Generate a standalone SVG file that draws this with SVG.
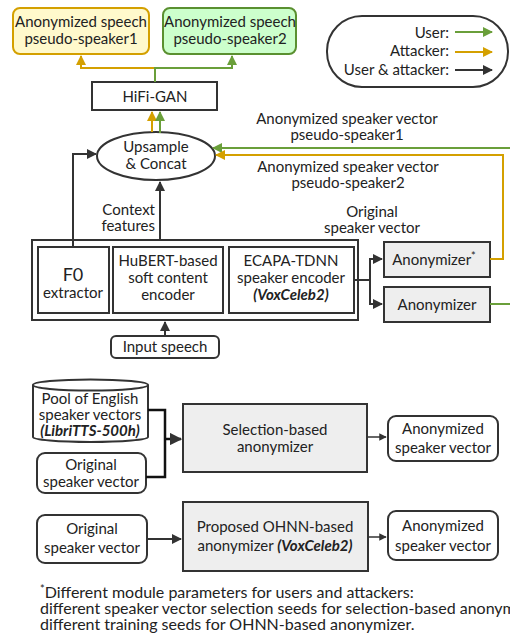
<svg xmlns="http://www.w3.org/2000/svg" width="510" height="640" viewBox="0 0 510 640">
<style>
text{font-family:Lato,"Noto Sans","Liberation Sans",sans-serif;font-size:15px;fill:#222;text-anchor:middle}
.box{fill:#fff;stroke:#333;stroke-width:2}
.gray{fill:#eeeeee;stroke:#333;stroke-width:2}
.k{fill:none;stroke:#333;stroke-width:2}
.g{fill:none;stroke:#6a9f3a;stroke-width:2}
.y{fill:none;stroke:#d4a000;stroke-width:2}
.it{font-style:italic;font-weight:bold}
.fn{font-size:16px;text-anchor:start}
</style>
<defs>
<marker id="ak" viewBox="0 0 10 10" refX="9" refY="5" markerWidth="5" markerHeight="5" orient="auto" markerUnits="strokeWidth"><path d="M0,0L10,5L0,10z" fill="#333"/></marker>
<marker id="ag" viewBox="0 0 10 10" refX="9" refY="5" markerWidth="5" markerHeight="5" orient="auto" markerUnits="strokeWidth"><path d="M0,0L10,5L0,10z" fill="#6a9f3a"/></marker>
<marker id="ay" viewBox="0 0 10 10" refX="9" refY="5" markerWidth="5" markerHeight="5" orient="auto" markerUnits="strokeWidth"><path d="M0,0L10,5L0,10z" fill="#d4a000"/></marker>
</defs>

<g id="out1"><rect x="13" y="8" width="136" height="46" rx="7" fill="#fff9cc" stroke="#d4a000" stroke-width="2"/><text x="81" y="27">Anonymized speech</text><text x="81" y="44">pseudo-speaker1</text></g>
<g id="out2"><rect x="163" y="8" width="133" height="46" rx="7" fill="#ccffcc" stroke="#5a9030" stroke-width="2"/><text x="230" y="27">Anonymized speech</text><text x="230" y="44">pseudo-speaker2</text></g>

<g id="legend"><rect x="327" y="16" width="181" height="71" rx="35" fill="#fff" stroke="#333" stroke-width="2"/>
<text x="449" y="38" style="text-anchor:end">User:</text>
<text x="449" y="56" style="text-anchor:end">Attacker:</text>
<text x="449" y="75" style="text-anchor:end">User &amp; attacker:</text>
<path class="g" d="M455,32H492" marker-end="url(#ag)"/>
<path class="y" d="M455,52H492" marker-end="url(#ay)"/>
<path class="k" d="M455,70H492" marker-end="url(#ak)"/></g>

<g id="hifigan"><rect class="box" x="92" y="82" width="125" height="28"/><text x="155" y="102">HiFi-GAN</text></g>
<g id="upsample"><ellipse cx="156" cy="156" rx="59" ry="24" fill="#fff" stroke="#333" stroke-width="2"/><text x="156" y="152">Upsample</text><text x="156" y="169">&amp; Concat</text></g>

<g id="encoders"><rect class="box" x="32" y="240" width="326" height="80"/>
<g id="f0"><rect class="box" x="38" y="247" width="71" height="66"/><text x="73" y="281" style="font-size:18px">F0</text><text x="73" y="298">extractor</text></g>
<g id="hubert"><rect class="box" x="113" y="247" width="110" height="66"/><text x="168" y="266">HuBERT-based</text><text x="168" y="283">soft content</text><text x="168" y="300">encoder</text></g>
<g id="ecapa"><rect class="box" x="229" y="247" width="125" height="66"/><text x="291" y="266">ECAPA-TDNN</text><text x="291" y="283">speaker encoder</text><text x="291" y="300" class="it">(VoxCeleb2)</text></g>
</g>
<g id="input"><rect class="box" x="111" y="336" width="108" height="22" rx="5"/><text x="165" y="352">Input speech</text></g>
<g id="anon1"><rect class="gray" x="384" y="242" width="106" height="35"/><text x="434" y="265">Anonymizer<tspan dy="-5" style="font-size:11px">*</tspan></text></g>
<g id="anon2"><rect class="gray" x="384" y="287" width="106" height="35"/><text x="437" y="310">Anonymizer</text></g>

<g id="labels">
<text x="347" y="124">Anonymized speaker vector</text><text x="347" y="140">pseudo-speaker1</text>
<text x="348" y="172">Anonymized speaker vector</text><text x="348" y="188">pseudo-speaker2</text>
<text x="155" y="215" style="text-anchor:end">Context</text><text x="155" y="231" style="text-anchor:end">features</text>
<text x="372" y="217">Original</text><text x="372" y="233">speaker vector</text>
</g>

<g id="cylinder"><path d="M33,385V437A57.5,5 0 0 0 148,437V385" fill="#fff" stroke="#333" stroke-width="2"/><ellipse cx="90.5" cy="385" rx="57.5" ry="5.5" fill="#fff" stroke="#333" stroke-width="2"/>
<text x="90" y="404">Pool of English</text><text x="90" y="420">speaker vectors</text><text x="90" y="436" class="it">(LibriTTS-500h)</text></g>
<g id="orig1"><rect class="box" x="37" y="453" width="109" height="40" rx="8"/><text x="91" y="470">Original</text><text x="91" y="487">speaker vector</text></g>
<g id="selection"><rect class="gray" x="183" y="404" width="184" height="68"/><text x="275" y="435">Selection-based</text><text x="275" y="452">anonymizer</text></g>
<g id="anonvec1"><rect class="box" x="388" y="416" width="110" height="45" rx="8"/><text x="443" y="434">Anonymized</text><text x="443" y="453">speaker vector</text></g>

<g id="orig2"><rect class="box" x="37" y="515" width="110" height="48" rx="8"/><text x="92" y="534">Original</text><text x="92" y="553">speaker vector</text></g>
<g id="ohnn"><rect class="gray" x="183" y="502" width="185" height="69"/><text x="275" y="532">Proposed OHNN-based</text><text x="275" y="551">anonymizer <tspan class="it">(VoxCeleb2)</tspan></text></g>
<g id="anonvec2"><rect class="box" x="388" y="511" width="110" height="49" rx="8"/><text x="443" y="531">Anonymized</text><text x="443" y="551">speaker vector</text></g>

<g id="footnote">
<text x="40" y="598" class="fn"><tspan dy="-5" style="font-size:11px">*</tspan><tspan dy="5">Different module parameters  for users and attackers:</tspan></text>
<text x="40" y="614" class="fn">different speaker vector selection seeds for selection-based anonymizer</text>
<text x="40" y="630" class="fn">different training seeds for OHNN-based anonymizer.</text>
</g>

<g id="connectors">
<path class="y" d="M155,68H81V56" marker-end="url(#ay)"/>
<path class="g" d="M155,82V68H232V56" marker-end="url(#ag)"/>
<path class="y" d="M152,132V112" marker-end="url(#ay)"/>
<path class="g" d="M160,133V112" marker-end="url(#ag)"/>
<path class="k" d="M73,247V154H96" marker-end="url(#ak)"/>
<path class="k" d="M160,240V182" marker-end="url(#ak)"/>
<path class="g" d="M510,148H213" marker-end="url(#ag)"/>
<path class="y" d="M490,259H503V155H216" marker-end="url(#ay)"/>
<path class="g" d="M490,304H510"/>
<path class="k" d="M354,280H370"/>
<path class="k" d="M370,259V304"/>
<path class="k" d="M369,259H382" marker-end="url(#ak)"/>
<path class="k" d="M369,304H382" marker-end="url(#ak)"/>
<path class="k" d="M165,337V322" marker-end="url(#ak)"/>
<path class="k" d="M148,410H165V477H146" style="stroke:#111;stroke-width:2.5"/>
<path class="k" d="M165,439H181" style="stroke:#111;stroke-width:2.5" marker-end="url(#ak)"/>
<path class="k" d="M367,437H386" style="stroke-width:1.5" marker-end="url(#ak)"/>
<path class="k" d="M147,539H181" style="stroke-width:2" marker-end="url(#ak)"/>
<path class="k" d="M368,537H386" style="stroke-width:1.5" marker-end="url(#ak)"/>
</g>
</svg>
